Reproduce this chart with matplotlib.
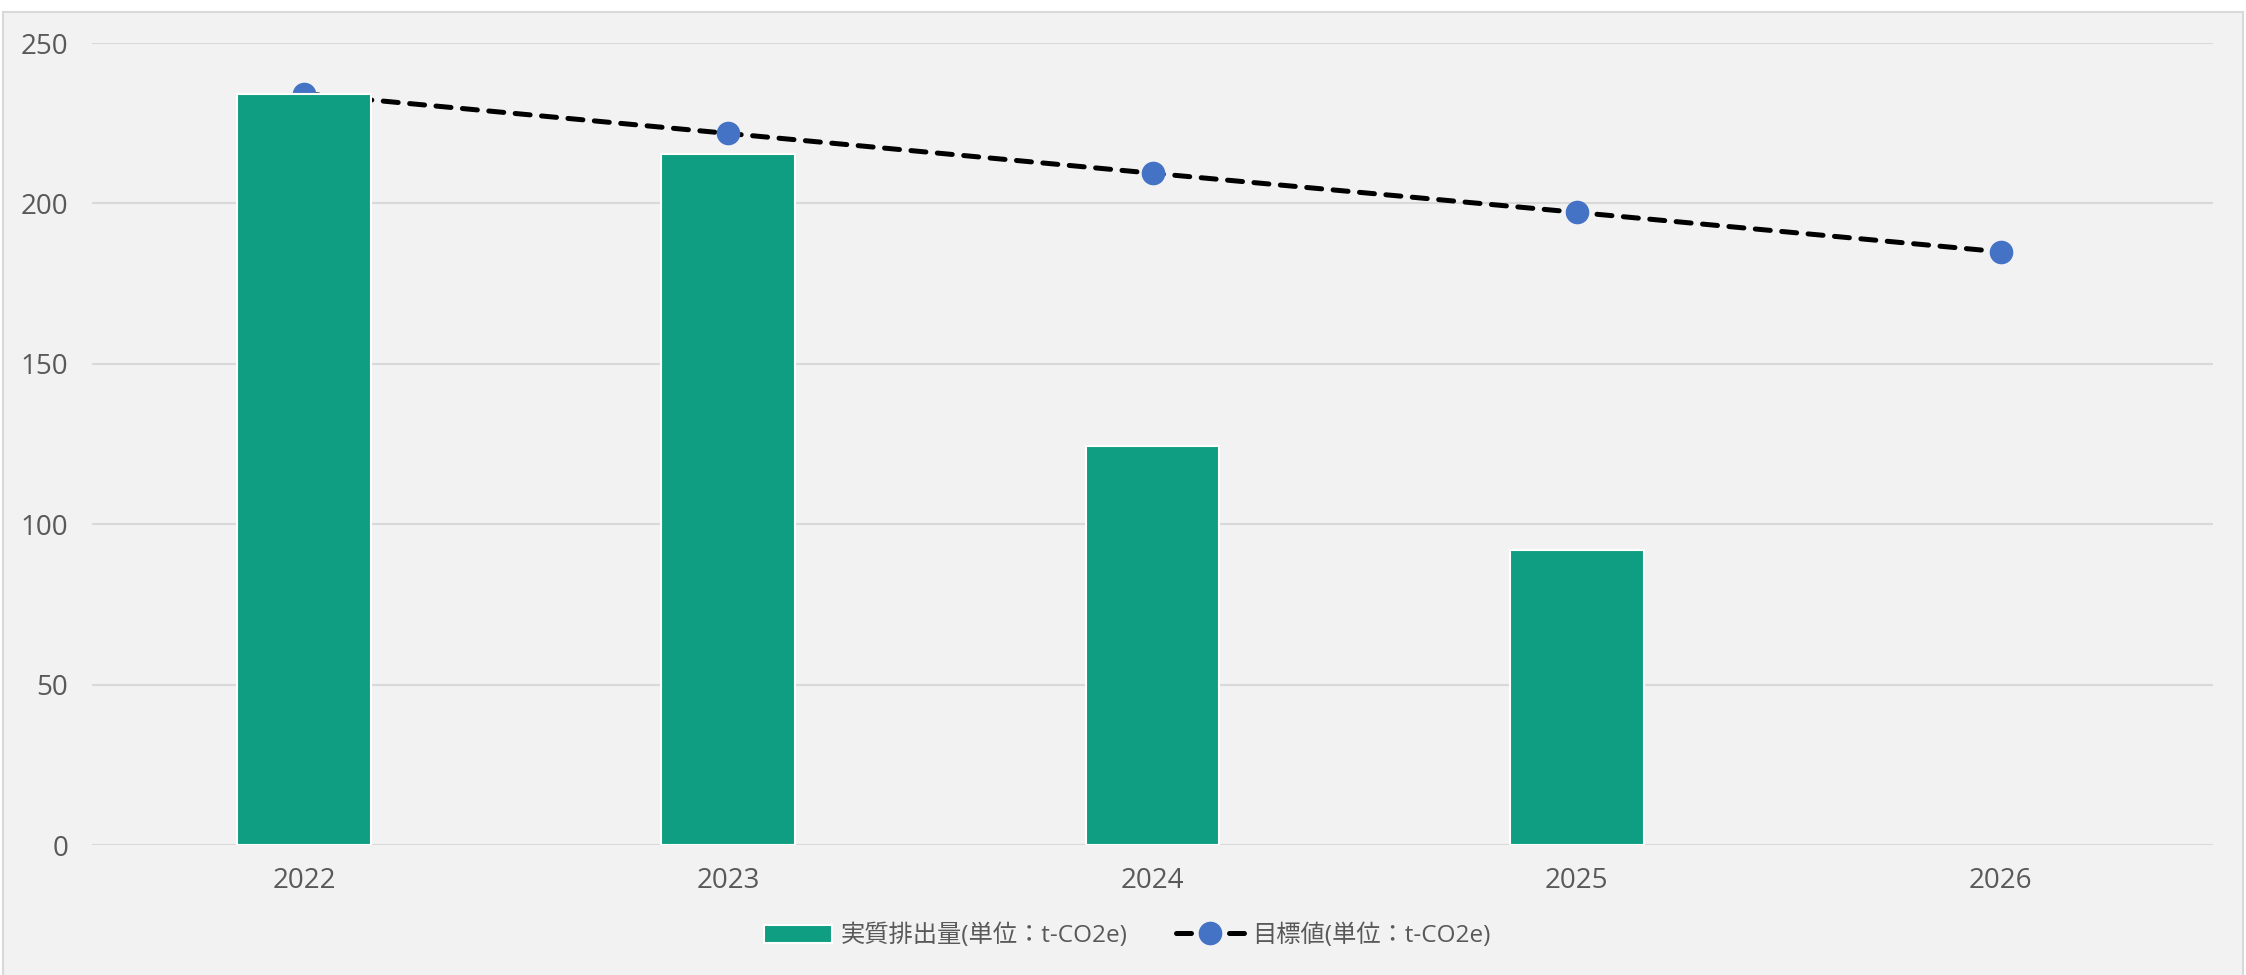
import matplotlib.pyplot as plt
from matplotlib.patches import Rectangle

plt.rcParams['font.family'] = ['Open Sans', 'Noto Sans CJK JP', 'DejaVu Sans']

years = ['2022', '2023', '2024', '2025', '2026']
actual = [234.0, 215.3, 124.5, 92.0]
target = [234.2, 221.8, 209.4, 197.2, 184.9]

bar_color = '#109E83'
line_marker = '#4472C4'
text_color = '#595959'
grid_color = '#D9D9D9'
bg = '#F2F2F2'

fig = plt.figure(figsize=(22.46, 9.75), dpi=100)
fig.patch.set_facecolor('white')
# chart area frame
fig.patches.append(Rectangle((3 / 2246, -0.01), 2240 / 2246, 1 - 12 / 975 + 0.01,
                             transform=fig.transFigure, facecolor=bg,
                             edgecolor=grid_color, linewidth=1.5, zorder=-5))

ax = fig.add_axes([92 / 2246, 130 / 975, 2121 / 2246, 802 / 975])
ax.set_zorder(2)
ax.patch.set_alpha(0)

x = list(range(len(years)))
ax.plot(x, target, color='black', linestyle=(0, (3.0, 2.3)), linewidth=3.6,
        dash_capstyle='round', marker='o', markersize=16,
        markerfacecolor=line_marker, markeredgecolor=line_marker,
        label='目標値(単位：t-CO2e)', zorder=2)
ax.bar(x[:len(actual)], actual, width=0.315, color=bar_color, edgecolor='white',
       linewidth=1.5, label='実質排出量(単位：t-CO2e)', zorder=3)

ax.set_xlim(-0.5, 4.5)
ax.set_ylim(0, 250)
ax.set_yticks([0, 50, 100, 150, 200, 250])
ax.set_xticks(x)
ax.set_xticklabels(years)
ax.grid(axis='y', color=grid_color, linewidth=1.5, zorder=0)
ax.set_axisbelow(True)
for s in ax.spines.values():
    s.set_visible(False)
ax.tick_params(axis='both', length=0, labelsize=20, colors=text_color)
ax.tick_params(axis='y', pad=17)
ax.tick_params(axis='x', pad=16)

handles, labels = ax.get_legend_handles_labels()
leg = fig.legend(handles[::-1], labels[::-1], loc='center', bbox_to_anchor=(0.502, 1 - 936 / 975),
                 ncol=2, frameon=False, fontsize=17.5, handlelength=2.8, handleheight=0.8,
                 handletextpad=0.35, columnspacing=2.0, labelcolor=text_color)

fig.savefig('out.png', dpi=100, facecolor=fig.get_facecolor())
